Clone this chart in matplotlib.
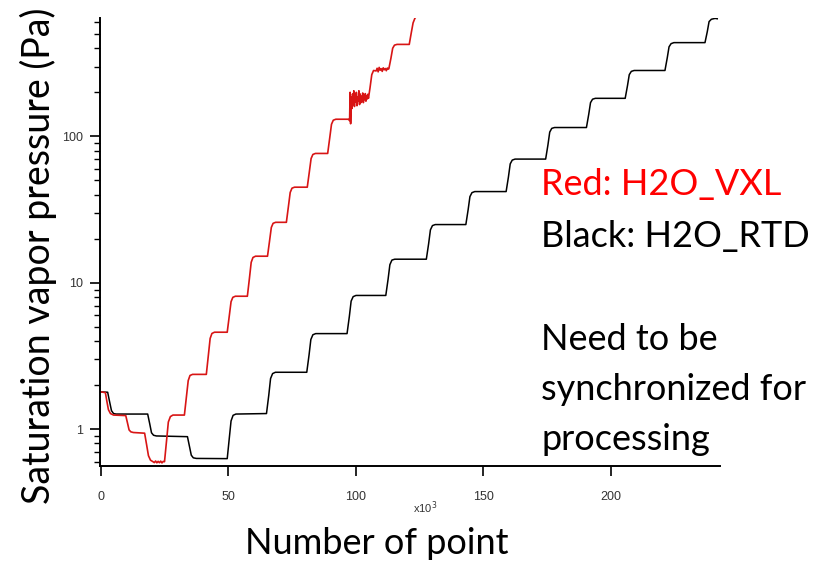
import matplotlib
matplotlib.use("Agg")
import matplotlib.pyplot as plt
from matplotlib.ticker import LogLocator, NullFormatter, FixedLocator

# H2O_RTD trace (black): sample number in thousands, pressure in Pa
rtd_x = [0, 2.7, 3.5, 4.2, 5.0, 6.0, 18.4, 19.2, 19.9, 20.7, 21.8, 34.0, 34.8, 35.5, 36.3, 37.5,
         49.6, 50.4, 51.1, 51.9, 53.0, 65.0, 65.9, 66.6, 67.4, 68.5, 80.8, 81.7, 82.4, 83.2, 84.3,
         96.6, 97.5, 98.2, 99.0, 100.1, 111.8, 112.7, 113.4, 114.2, 115.3, 127.7, 128.6, 129.3, 130.1, 131.2,
         143.2, 144.1, 144.8, 145.6, 146.7, 159.0, 159.9, 160.6, 161.4, 162.5, 174.5, 175.4, 176.1, 176.9, 178.0,
         190.5, 191.4, 192.1, 192.9, 194.0, 205.7, 206.6, 207.3, 208.1, 209.2, 221.3, 222.2, 222.9, 223.7, 224.8,
         237.0, 237.9, 238.6, 239.5, 241.0, 241.8]
rtd_p = [1.80, 1.79, 1.53, 1.34, 1.28, 1.27, 1.27, 1.09, 0.946, 0.91, 0.90, 0.89, 0.762, 0.665, 0.638, 0.632,
         0.63, 0.865, 1.14, 1.245, 1.27, 1.28, 1.71, 2.22, 2.40, 2.45, 2.45, 3.22, 4.10, 4.42, 4.5,
         4.5, 5.89, 7.50, 8.05, 8.2, 8.2, 10.6, 13.3, 14.3, 14.5, 14.5, 18.5, 23.0, 24.6, 25,
         25, 31.6, 38.8, 41.3, 42, 42, 52.8, 64.9, 68.9, 70, 70, 87.5, 107, 113.5, 115,
         115, 141.5, 170, 179.5, 182, 182, 222, 264, 278, 282, 282, 344, 409, 430, 437,
         437, 519, 608, 631, 640, 636]

# H2O_VXL trace (red)
vxl_x = [0, 1.8, 2.4, 3.0, 3.8, 5.0, 9.8, 10.5, 11.1, 11.8, 12.8, 17.2, 18.0, 18.7, 19.5, 20.5,
         21.0, 21.5, 22.0, 22.5, 23.0, 23.5, 24.0, 24.5, 25.0,
         25.8, 26.5, 27.3, 28.3, 32.8, 33.6, 34.3, 35.0, 36.0, 41.4, 42.2, 42.9, 43.6, 44.6,
         49.6, 50.4, 51.1, 51.8, 52.8, 57.5, 58.3, 59.0, 59.7, 60.7, 65.4, 66.2, 66.9, 67.6, 68.6,
         72.8, 73.6, 74.3, 75.0, 76.0, 81.0, 81.8, 82.5, 83.2, 84.2, 89.0, 89.8, 90.5, 91.2, 92.2,
         97.3, 97.6, 97.8, 98.0, 98.3,
         98.5, 98.75, 99.0, 99.25, 99.5, 99.75, 100.0, 100.25, 100.5, 100.75, 101.0, 101.25, 101.5, 101.75,
         102.0, 102.25, 102.5, 102.75, 103.0, 103.25, 103.5, 103.75, 104.0, 104.25, 104.5, 104.75, 105.0,
         105.6, 106.3, 107.0, 108.0, 108.4, 108.8, 109.2, 109.6, 110.0, 110.4, 110.8, 111.2, 111.6, 112.0,
         112.4, 112.8, 113.0, 113.8, 114.5, 115.2, 116.2, 121.0, 121.8, 122.5, 123.2, 123.6]
vxl_p = [1.80, 1.78, 1.55, 1.36, 1.28, 1.25, 1.24, 1.10, 0.99, 0.96, 0.95, 0.94, 0.78, 0.66, 0.615, 0.60,
         0.592, 0.607, 0.590, 0.604, 0.591, 0.606, 0.589, 0.603, 0.60,
         0.835, 1.12, 1.22, 1.25, 1.25, 1.67, 2.15, 2.33, 2.37, 2.37, 3.20, 4.17, 4.51, 4.6,
         4.6, 5.93, 7.43, 7.96, 8.1, 8.1, 10.7, 13.8, 14.9, 15.2, 15.2, 19.3, 23.9, 25.5, 25.9,
         25.9, 33.2, 41.4, 44.3, 45, 45, 57.1, 70.6, 75.3, 76.5, 76.5, 97.5, 121, 129, 131,
         131, 128, 200, 122, 185,
         155, 195, 165, 205, 160, 190, 172, 200, 162, 185, 175, 205, 165, 195,
         170, 188, 176, 198, 170, 192, 178, 196, 174, 190, 180, 194, 182,
         214, 264, 282, 280, 292, 276, 296, 283, 290, 278, 294, 285, 291, 281,
         293, 288, 290, 341, 400, 420, 425, 425, 511, 596, 640, 655]

fig = plt.figure(figsize=(8.39, 5.62), dpi=100)
ax = fig.add_axes([0.1192, 0.171, 0.7393, 0.7965])

ax.plot(rtd_x, rtd_p, color="black", lw=1.1)
ax.plot(vxl_x, vxl_p, color="#d81515", lw=1.2)

ax.set_yscale("log")
ax.set_xlim(-0.3, 243)
ax.set_ylim(0.562, 641)

for s in ["top", "right"]:
    ax.spines[s].set_visible(False)
for s in ["left", "bottom"]:
    ax.spines[s].set_linewidth(1.4)

ax.xaxis.set_major_locator(FixedLocator([0, 50, 100, 150, 200]))
ax.yaxis.set_minor_locator(LogLocator(base=10, subs=range(2, 10), numticks=20))
ax.yaxis.set_minor_formatter(NullFormatter())
ax.set_yticks([1, 10, 100])
ax.set_yticklabels(["1", "10", "100"])

tick_font = {"family": "Liberation Sans", "size": 8, "color": "#333333"}
for lab in ax.get_xticklabels() + ax.get_yticklabels():
    lab.set_fontfamily("Liberation Sans")
    lab.set_fontsize(9)
    lab.set_color("#333333")
ax.tick_params(axis="x", which="major", direction="out", length=7, width=1.2, pad=11)
ax.tick_params(axis="y", which="major", direction="out", length=7, width=1.2, pad=5)
ax.tick_params(axis="y", which="minor", direction="out", length=4, width=1.0)

fig.text(425 / 839, 1 - 508 / 562, r"x10$^3$", fontdict=tick_font, ha="center", va="center")

big = {"family": "Lato", "size": 26}
fig.text(38 / 839, 1 - 256 / 562, "Saturation vapor pressure (Pa)", rotation=90,
         ha="center", va="center", family="Lato", size=27)
fig.text(377 / 839, 1 - 543 / 562, "Number of point", ha="center", va="center", fontdict=big)

notes = [("Red: H2O_VXL", 185, "red"), ("Black: H2O_RTD", 237, "black"),
         ("Need to be", 340, "black"), ("synchronized for", 390, "black"),
         ("processing", 440, "black")]
for txt, ypix, col in notes:
    fig.text(541 / 839, 1 - ypix / 562, txt, color=col, ha="left", va="center", fontdict=big)

fig.savefig("out.png", dpi=100)
